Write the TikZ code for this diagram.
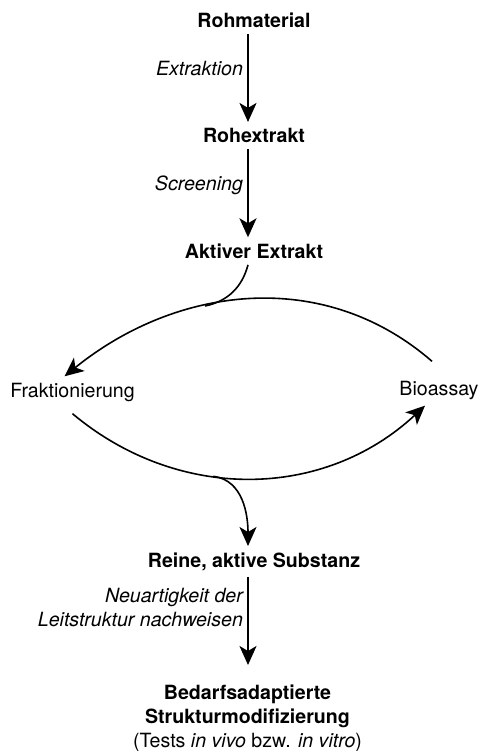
\documentclass[tikz,border=0pt]{standalone}
\usepackage{fontspec}
\setmainfont{TeX Gyre Heros}
\usetikzlibrary{arrows.meta}

\begin{document}
\begin{tikzpicture}[>={Stealth[length=9.5pt,width=8.5pt,inset=2.5pt]},x=1pt,y=1pt,
		node distance=57.75pt,
		stage/.style={font=\fontsize{9.8}{12}\selectfont\bfseries,inner sep=3pt},
		plain/.style={font=\fontsize{9.8}{12}\selectfont,inner sep=3pt},
		lab/.style={left,font=\fontsize{9.8}{12}\selectfont\itshape,inner sep=2pt},
		flow/.style={->,line width=1.1pt},
		ring/.style={line width=0.8pt}]

		\useasboundingbox (0,0) rectangle (240,-375.5);

		\node[stage] (RM) at (127,-10.05) {Rohmaterial};
		\node[stage] (RE) [below of=RM] {Rohextrakt};
		\node[stage] (AE) [below of=RE] {Aktiver Extrakt};
		\node[plain, anchor=base] (FR) at (36.25,-198.5) {Fraktionierung};
		\node[plain, anchor=base] (BA) at (219.5,-197.5) {Bioassay};
		\node[stage, anchor=base] (RS) at (127,-283.5) {Reine, aktive Substanz};
		\node[stage, anchor=north, align=center] (BS) at (123.75,-339)
		{Bedarfsadaptierte\\Strukturmodifizierung\\{\mdseries (Tests \textit{in vivo} bzw. \textit{in vitro})}};

		\draw[flow] ([xshift=-3pt]RM.south) -- node[lab,pos=0.39] {Extraktion} ([xshift=-3pt]RE.north);
		\draw[flow] ([xshift=-3pt]RE.south) -- node[lab,pos=0.41] {Screening} ([xshift=-3pt]AE.north);

		\draw[ring,->] ([shift={(-3.5pt,6.5pt)}]BA.north) to[out=139,in=39]
		coordinate[pos=0.615] (jt) ([xshift=-4pt]FR.north);
		\draw[ring,->] ([yshift=-3pt]FR.south) to[out=-40,in=-137]
		coordinate[pos=0.4] (jb) ([xshift=-7pt]BA.south);
		\draw[ring] ([xshift=-3pt]AE.south) to[out=-105,in=12] (jt);
		\draw[ring,->] (jb) to[out=-7,in=90] ([xshift=-3pt]RS.north);

		\draw[flow,shorten >=6.5pt] ([xshift=-3pt]RS.south) --
		node[lab,align=right,pos=0.3] {Neuartigkeit der\\Leitstruktur nachweisen} ([xshift=0.25pt]BS.north);
	\end{tikzpicture}
\end{document}
